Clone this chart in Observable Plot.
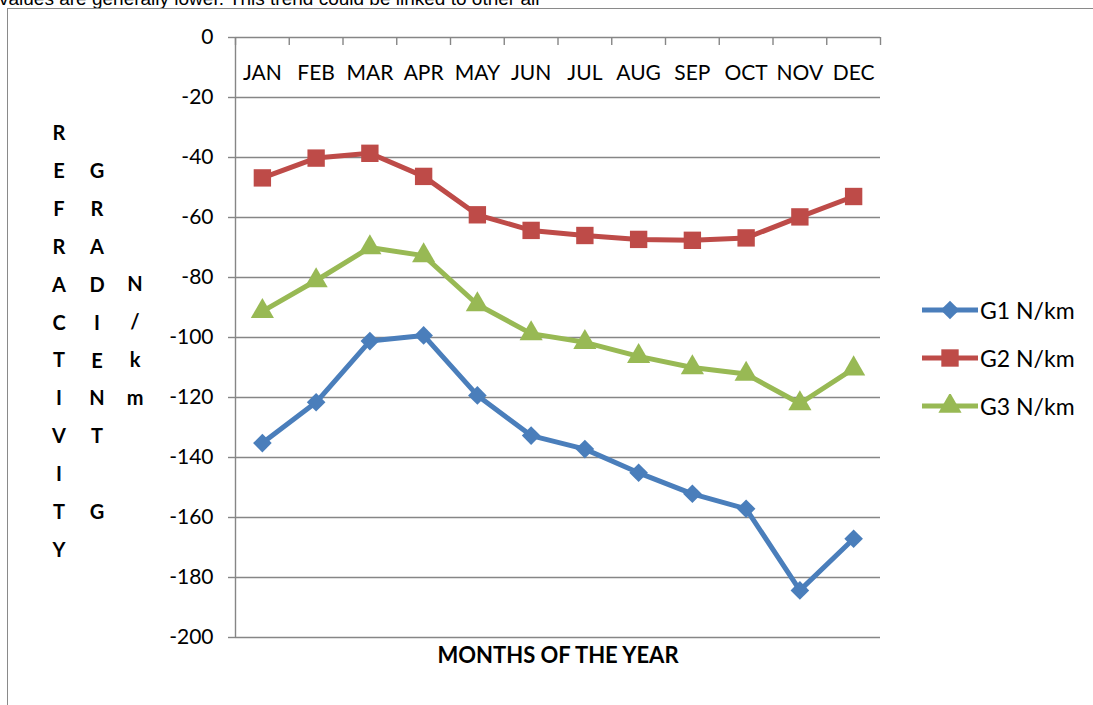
<!DOCTYPE html>
<html><head><meta charset="utf-8">
<script src="https://cdn.jsdelivr.net/npm/d3@7"></script>
<script src="https://cdn.jsdelivr.net/npm/@observablehq/plot@0.6"></script>
<style>
body{margin:0;background:#fff;}
#wrap{position:relative;width:1093px;height:705px;overflow:hidden;font-family:Lato,sans-serif;background:#fff;}
#wrap svg.chart{position:absolute;left:0;top:0;}
#frame{position:absolute;left:7px;top:8px;width:1200px;height:800px;border-left:1px solid #8a8a8a;border-top:1px solid #8a8a8a;pointer-events:none;}
#toptext{position:absolute;left:-1px;top:-12px;font-family:"Liberation Sans",Arial,sans-serif;font-size:19px;line-height:21px;white-space:nowrap;color:#000;}
.vcol{position:absolute;width:30px;text-align:center;font-weight:bold;font-size:20px;line-height:37.9px;color:#000;}
.leg{position:absolute;left:922px;height:24px;display:flex;align-items:center;font-size:23px;color:#000;}
.leg svg{margin-right:2px;}
</style></head><body><div id="wrap">
<div id="toptext">values are generally lower. This trend could be linked to other air</div>
</div>
<script>
const months = ["JAN","FEB","MAR","APR","MAY","JUN","JUL","AUG","SEP","OCT","NOV","DEC"];
const g1 = [-135.2,-121.6,-101.2,-99.3,-119.3,-132.7,-137.2,-145.1,-152.1,-157.1,-184.3,-167.1];
const g2 = [-46.8,-40.2,-38.6,-46.3,-59.1,-64.3,-66.0,-67.3,-67.6,-66.8,-59.8,-53.0];
const g3 = [-91.3,-81.0,-70.0,-72.7,-89.0,-98.7,-101.6,-106.3,-110.0,-112.2,-122.0,-110.4];
const seriesNames = ["G1 N/km","G2 N/km","G3 N/km"];
const seriesValues = [g1, g2, g3];
const seriesColors = ["#4A7EBB","#BE4B48","#98B954"];
const seriesSymbols = ["diamond2","square","triangle"];
const seriesR = [8.4, 9.8, 8.6];
const yTicks = d3.range(-200, 1, 20);
const xTitle = "MONTHS OF THE YEAR";
const col1 = "REFRACTIVITY".split("");
const col2 = ["G","R","A","D","I","E","N","T","","G"];
const col3 = ["N","/","k","m"];

const data = [];
seriesNames.forEach((s, k) => seriesValues[k].forEach((v, i) => data.push({series: s, i: i + 0.5, month: months[i], value: v})));

const grid = "#868686";
const marks = [
  Plot.ruleY(yTicks.filter(v => v < 0), {stroke: grid, strokeWidth: 1.4}),
  Plot.ruleY([0], {stroke: grid, strokeWidth: 1.4}),
  Plot.ruleX([0], {stroke: grid, strokeWidth: 1.4}),
  Plot.tickX(d3.range(13), {x: d => d, stroke: grid, strokeWidth: 1.4, insetBottom: 592}),
  Plot.tickY(yTicks, {y: d => d, stroke: grid, strokeWidth: 1.4, insetLeft: -7, insetRight: 645}),
  Plot.axisY({ticks: yTicks, tickSize: 0, tickPadding: 22, fontSize: 21, tickFormat: d => String(d), label: null, fill: "#000"}),
  Plot.text(months, {x: (d, i) => i + 0.5, frameAnchor: "top", dy: 28, fontSize: 21, fill: "#000"}),
  Plot.text([xTitle], {frameAnchor: "bottom", dy: 25, fontSize: 22, fontWeight: "bold", fill: "#000"})
];
seriesNames.forEach((s, k) => {
  const rows = data.filter(d => d.series === s);
  marks.push(Plot.line(rows, {x: "i", y: "value", stroke: seriesColors[k], strokeWidth: 5}));
});
seriesNames.forEach((s, k) => {
  const rows = data.filter(d => d.series === s);
  marks.push(Plot.dot(rows, {x: "i", y: "value", fill: seriesColors[k], symbol: seriesSymbols[k], r: seriesR[k], stroke: "none"}));
});

const chart = Plot.plot({
  width: 1093, height: 705,
  marginLeft: 235, marginRight: 213, marginTop: 37, marginBottom: 68,
  style: {background: "transparent", fontFamily: "Lato, sans-serif"},
  x: {type: "linear", domain: [0, 12], axis: null},
  y: {domain: [-200, 0], axis: null},
  marks
});
chart.classList.add("chart");
const wrap = document.getElementById("wrap");
wrap.appendChild(chart);

function addCol(letters, left, firstCenter) {
  const d = document.createElement("div");
  d.className = "vcol";
  d.style.left = (left - 15) + "px";
  d.style.top = (firstCenter - 19) + "px";
  d.innerHTML = letters.map(c => c === "" ? "&nbsp;" : c).join("<br>");
  wrap.appendChild(d);
}
addCol(col1, 59, 133);
addCol(col2, 97, 171);
addCol(col3, 135, 284);

seriesNames.forEach((s, k) => {
  const row = document.createElement("div");
  row.className = "leg";
  row.style.top = (310 + k * 48 - 12) + "px";
  const symMap = {diamond2: d3.symbolDiamond2, square: d3.symbolSquare, triangle: d3.symbolTriangle};
  const path = d3.symbol(symMap[seriesSymbols[k]], seriesR[k] * seriesR[k] * Math.PI)();
  row.innerHTML = `<svg width="56" height="24"><line x1="0" x2="56" y1="12" y2="12" stroke="${seriesColors[k]}" stroke-width="5"/><path d="${path}" transform="translate(28,12)" fill="${seriesColors[k]}"/></svg><span>${s}</span>`;
  wrap.appendChild(row);
});

const frame = document.createElement("div");
frame.id = "frame";
wrap.appendChild(frame);
</script>
</body></html>
